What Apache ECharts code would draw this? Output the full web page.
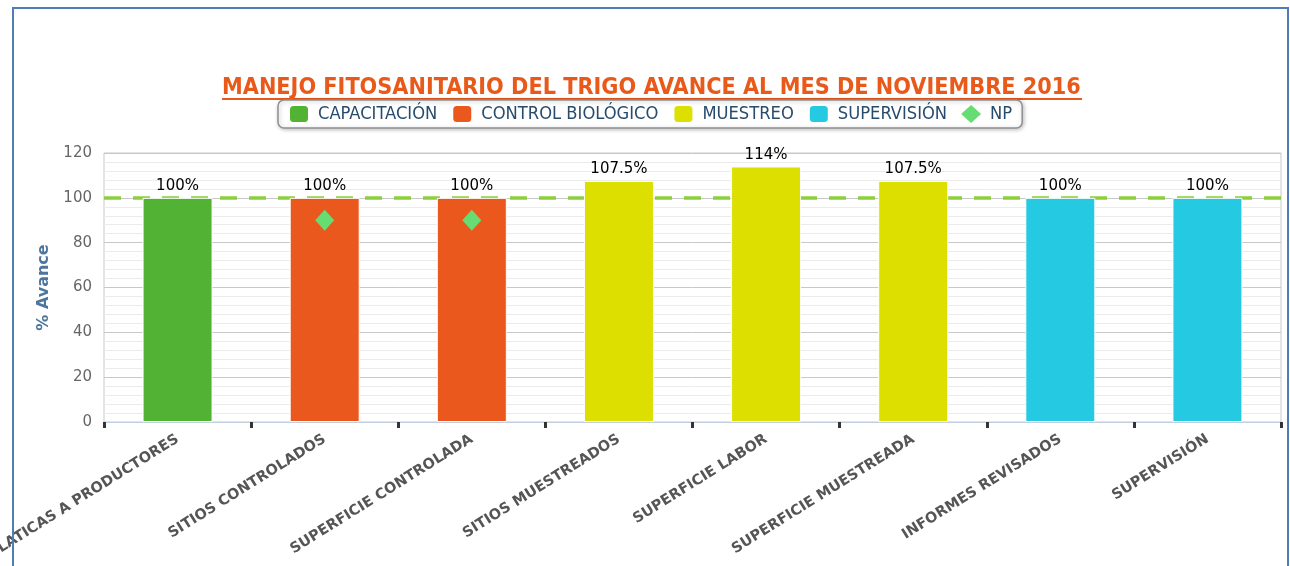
<!DOCTYPE html>
<html>
<head>
<meta charset="utf-8">
<title>Manejo fitosanitario del trigo</title>
<script src="https://cdn.jsdelivr.net/npm/echarts@6/dist/echarts.min.js"></script>
<style>
    html, body { margin: 0; padding: 0; background: #fff; }
    #chart { position: absolute; left: 0; top: 0; width: 1290px; height: 566px; }
    #frame {
        position: absolute; left: 12px; top: 7px; width: 1273px; height: 600px;
        border: 2px solid #4f7db8; border-bottom: none; pointer-events: none;
    }
</style>
</head>
<body>
<div id="chart"></div>
<div id="frame"></div>
<script>
var categories = ['PLATICAS A PRODUCTORES', 'SITIOS CONTROLADOS', 'SUPERFICIE CONTROLADA',
    'SITIOS MUESTREADOS', 'SUPERFICIE LABOR', 'SUPERFICIE MUESTREADA',
    'INFORMES REVISADOS', 'SUPERVISIÓN'];
var capacitacion = [100, '-', '-', '-', '-', '-', '-', '-'];
var control_biologico = ['-', 100, 100, '-', '-', '-', '-', '-'];
var muestreo = ['-', '-', '-', 107.5, 114, 107.5, '-', '-'];
var supervision = ['-', '-', '-', '-', '-', '-', 100, 100];
var np = ['-', 90, 90, '-', '-', '-', '-', '-'];
var meta = 100;
var y_ticks = { min: 0, max: 120, interval: 20 };

var font = 'DejaVu Sans';
var font_narrow = 'DejaVu Sans Condensed';

function barSeries(name, values, color) {
    return {
        name: name,
        type: 'bar',
        stack: 'avance',
        barWidth: 70,
        data: values,
        itemStyle: { color: color, borderColor: '#fff', borderWidth: 1 },
        label: {
            show: true,
            position: 'top',
            distance: 4,
            formatter: '{c}%',
            color: '#000',
            fontFamily: font,
            fontSize: 15
        }
    };
}

var chart = echarts.init(document.getElementById('chart'));

var series = [
    barSeries('CAPACITACIÓN', capacitacion, '#52b233'),
    barSeries('CONTROL BIOLÓGICO', control_biologico, '#ea581d'),
    barSeries('MUESTREO', muestreo, '#dcdf00'),
    barSeries('SUPERVISIÓN', supervision, '#26c9e2'),
    {
        name: 'NP',
        type: 'scatter',
        symbol: 'diamond',
        symbolSize: [19, 21],
        data: np,
        z: 4,
        itemStyle: { color: '#66dd72', opacity: 1 }
    }
];

// linea de meta al 100%, detras de las barras
series[0].markLine = {
    z: 1,
    silent: true,
    symbol: 'none',
    label: { show: false },
    lineStyle: { color: '#8ccf3c', width: 3.5, type: [17, 12], opacity: 1 },
    data: [{ yAxis: meta }]
};

chart.setOption({
    animation: false,
    textStyle: { fontFamily: font },
    title: {
        text: 'MANEJO FITOSANITARIO DEL TRIGO AVANCE AL MES DE NOVIEMBRE 2016',
        left: 222,
        top: 76,
        padding: 0,
        textStyle: { color: '#e8591a', fontSize: 23.2, fontWeight: 'bold', fontFamily: font_narrow }
    },
    graphic: [{
        type: 'rect',
        left: 222,
        top: 98,
        shape: { width: 860, height: 2 },
        style: { fill: '#e8591a' }
    }],
    legend: {
        top: 100,
        left: 278,
        padding: [4, 10, 4, 10],
        itemGap: 14,
        itemWidth: 20,
        itemHeight: 18,
        borderColor: '#909090',
        borderWidth: 1.5,
        borderRadius: 6,
        backgroundColor: '#fff',
        shadowColor: 'rgba(0,0,0,0.25)',
        shadowBlur: 4,
        shadowOffsetX: 1,
        shadowOffsetY: 1,
        textStyle: { color: '#274b6d', fontSize: 18.2, fontFamily: font_narrow, padding: [0, 0, 0, 4] },
        data: [
            { name: 'CAPACITACIÓN', icon: 'roundRect' },
            { name: 'CONTROL BIOLÓGICO', icon: 'roundRect' },
            { name: 'MUESTREO', icon: 'roundRect' },
            { name: 'SUPERVISIÓN', icon: 'roundRect' },
            { name: 'NP', icon: 'diamond' }
        ]
    },
    grid: {
        left: 104,
        right: 9,
        top: 153,
        bottom: 144,
        outerBoundsMode: 'none',
        show: true,
        borderColor: '#c8c8c8',
        borderWidth: 1,
        backgroundColor: 'transparent'
    },
    xAxis: {
        type: 'category',
        data: categories,
        axisLine: { lineStyle: { color: '#c0d0e0', width: 1 } },
        axisTick: { show: true, length: 6, lineStyle: { color: '#333', width: 3 } },
        axisLabel: {
            interval: 0,
            rotate: 32,
            margin: 16,
            color: '#555',
            fontSize: 14.5,
            fontWeight: 'bold',
            fontFamily: font
        }
    },
    yAxis: {
        type: 'value',
        min: y_ticks.min,
        max: y_ticks.max,
        interval: y_ticks.interval,
        name: '% Avance',
        nameLocation: 'middle',
        nameGap: 52,
        nameTextStyle: { color: '#4d759e', fontSize: 16, fontWeight: 'bold', fontFamily: font },
        axisLine: { show: false },
        axisTick: { show: false },
        axisLabel: { color: '#666', fontSize: 15, margin: 12, fontFamily: font },
        splitLine: { lineStyle: { color: '#c8c8c8' } },
        minorTick: { show: false, splitNumber: 5 },
        minorSplitLine: { show: true, lineStyle: { color: '#ebebeb' } }
    },
    series: series
});
</script>
</body>
</html>
